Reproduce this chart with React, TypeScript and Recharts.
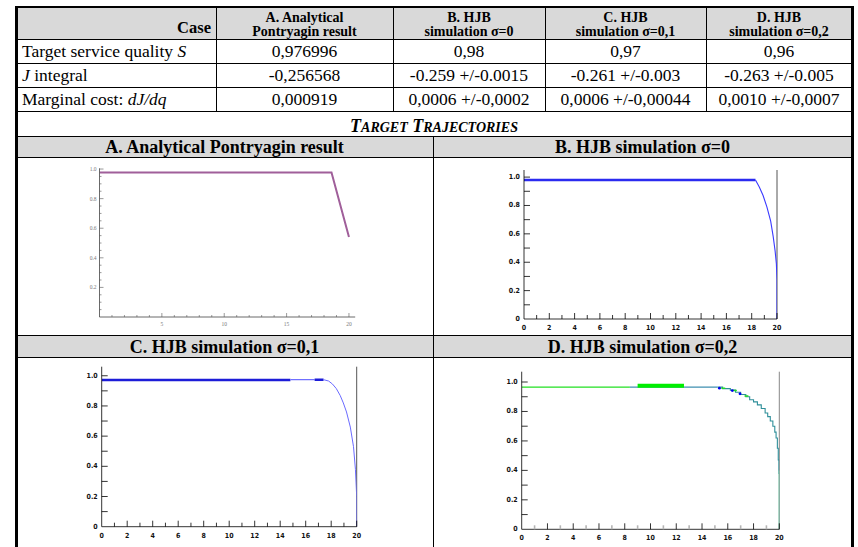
import React from "react";
import { LineChart, Line, XAxis, YAxis, ReferenceLine } from "recharts";

// ---- table text ----
const headerLine1 = ["A. Analytical", "B. HJB", "C. HJB", "D. HJB"];
const headerLine2 = ["Pontryagin result", "simulation σ=0", "simulation σ=0,1", "simulation σ=0,2"];
const serviceQuality = ["0,976996", "0,98", "0,97", "0,96"];
const jIntegral = ["-0,256568", "-0.259 +/-0.0015", "-0.261 +/-0.003", "-0.263 +/-0.005"];
const marginalCost = ["0,000919", "0,0006 +/-0,0002", "0,0006 +/-0,00044", "0,0010 +/-0,0007"];
const panelTitles = [
  "A. Analytical Pontryagin result",
  "B. HJB simulation σ=0",
  "C. HJB simulation σ=0,1",
  "D. HJB simulation σ=0,2",
];

// ---- tick values ----
const mmaXTicks = [0, 1, 2, 3, 4, 5, 6, 7, 8, 9, 10, 11, 12, 13, 14, 15, 16, 17, 18, 19, 20];
const mmaYTicks = [0.05, 0.1, 0.15, 0.2, 0.25, 0.3, 0.35, 0.4, 0.45, 0.5, 0.55, 0.6, 0.65, 0.7, 0.75, 0.8, 0.85, 0.9, 0.95, 1.0];
const simXTicks = [0, 1, 2, 3, 4, 5, 6, 7, 8, 9, 10, 11, 12, 13, 14, 15, 16, 17, 18, 19, 20];
const simYTicks = [0, 0.1, 0.2, 0.3, 0.4, 0.5, 0.6, 0.7, 0.8, 0.9, 1.0];

// ---- A. analytical Pontryagin trajectory ----
const pontryagin = [
  { t: 0, s: 0.977 },
  { t: 18.6, s: 0.977 },
  { t: 20, s: 0.54 },
];

// ---- B. HJB sigma=0 ----
const hjb0Flat = [
  { t: 0, s: 0.98 },
  { t: 18.3, s: 0.98 },
];
const hjb0Drop = [
  { t: 18.3, s: 0.98 },
  { t: 18.6, s: 0.93 },
  { t: 18.9, s: 0.87 },
  { t: 19.2, s: 0.79 },
  { t: 19.5, s: 0.69 },
  { t: 19.7, s: 0.58 },
  { t: 19.85, s: 0.48 },
  { t: 19.95, s: 0.39 },
  { t: 20, s: 0.28 },
  { t: 20, s: 0 },
];

// ---- C. HJB sigma=0,1 ----
const hjb1Flat = [
  { t: 0, s: 0.972 },
  { t: 14.8, s: 0.972 },
];
const hjb1Thin = [
  { t: 14.8, s: 0.974 },
  { t: 16.7, s: 0.974 },
];
const hjb1Short = [
  { t: 16.7, s: 0.974 },
  { t: 17.4, s: 0.974 },
];
const hjb1Drop = [
  { t: 17.4, s: 0.974 },
  { t: 17.8, s: 0.965 },
  { t: 18.1, s: 0.945 },
  { t: 18.4, s: 0.915 },
  { t: 18.7, s: 0.87 },
  { t: 18.95, s: 0.82 },
  { t: 19.2, s: 0.76 },
  { t: 19.5, s: 0.66 },
  { t: 19.75, s: 0.53 },
  { t: 19.9, s: 0.38 },
  { t: 20, s: 0.2 },
  { t: 20, s: 0 },
];

// ---- D. HJB sigma=0,2 ----
const hjb2Green = [
  { t: 0, s: 0.965 },
  { t: 8.4, s: 0.965 },
];
const hjb2Teal = [
  { t: 8.4, s: 0.965 },
  { t: 15.2, s: 0.965 },
];
const hjb2Bar = [
  { t: 9, s: 0.975 },
  { t: 12.6, s: 0.975 },
];
const hjb2Steps = [
  { t: 15.2, s: 0.965 },
  { t: 15.6, s: 0.955 },
  { t: 16.2, s: 0.945 },
  { t: 16.6, s: 0.93 },
  { t: 17.0, s: 0.915 },
  { t: 17.4, s: 0.9 },
  { t: 17.7, s: 0.88 },
  { t: 18.0, s: 0.865 },
  { t: 18.3, s: 0.845 },
  { t: 18.6, s: 0.82 },
  { t: 18.9, s: 0.79 },
  { t: 19.1, s: 0.765 },
  { t: 19.3, s: 0.735 },
  { t: 19.5, s: 0.7 },
  { t: 19.65, s: 0.66 },
  { t: 19.75, s: 0.62 },
  { t: 19.85, s: 0.55 },
  { t: 19.92, s: 0.47 },
  { t: 19.97, s: 0.38 },
  { t: 20, s: 0.28 },
  { t: 20, s: 0 },
];
const hjb2GreenSteps = [
  { t: 15.5, s: 0.958 },
  { t: 15.8, s: 0.958 },
  { t: 15.81, s: null },
  { t: 16.4, s: 0.942 },
  { t: 16.7, s: 0.942 },
  { t: 16.71, s: null },
  { t: 17.3, s: 0.905 },
  { t: 17.6, s: 0.905 },
];
const hjb2Dots = [
  { t: 15.35, s: 0.958 },
  { t: 16.35, s: 0.942 },
  { t: 16.95, s: 0.92 },
];
const hjb2Tail = [
  { t: 20, s: 0.4 },
  { t: 20, s: 0 },
];

const FONT = '"Liberation Serif", "DejaVu Serif", serif';
const TICK_FONT = '"DejaVu Sans Condensed", "Liberation Sans Narrow", sans-serif';
const colEdges = [16, 216, 393, 545, 706, 852];
const rowEdges = [7, 39, 63, 87, 111, 136, 157];
const midX = 433;
const grayCTop = 335;
const grayCBottom = 357;

function mmaXTick(props: any) {
  const { x, y, payload } = props;
  const v = payload.value as number;
  const major = v % 5 === 0;
  if (v === 0) return <g />;
  return (
    <g>
      <line x1={x} y1={y} x2={x} y2={y - (major ? 4 : 2)} stroke="#555" strokeWidth={0.6} />
      {major && (
        <text x={x} y={y + 7} textAnchor="middle" dominantBaseline="central" fontSize={5.5} fill="#7a7a7a" fontFamily={FONT}>
          {v}
        </text>
      )}
    </g>
  );
}

function mmaYTick(props: any) {
  const { x, y, payload } = props;
  const v = payload.value as number;
  const major = Math.round(v * 100) % 20 === 0;
  return (
    <g>
      <line x1={x} y1={y} x2={x + (major ? 4 : 2)} y2={y} stroke="#555" strokeWidth={0.6} />
      {major && (
        <text x={x - 3} y={y} textAnchor="end" dominantBaseline="central" fontSize={5.5} fill="#7a7a7a" fontFamily={FONT}>
          {v.toFixed(1)}
        </text>
      )}
    </g>
  );
}

function makeSimXTick(minorColor: string, minorWidth: number) {
  return (props: any) => {
    const { x, y, payload } = props;
    const v = payload.value as number;
    const major = v % 2 === 0;
    return (
      <g>
        {v > 0 && (
          <line
            x1={x}
            y1={y}
            x2={x}
            y2={y - (major ? 6 : 4)}
            stroke={major ? "#000" : minorColor}
            strokeWidth={major ? 0.8 : minorWidth}
          />
        )}
        {major && (
          <text x={x} y={y + 9} textAnchor="middle" dominantBaseline="central" fontSize={7} fontWeight={700} fill="#111" fontFamily={TICK_FONT}>
            {v}
          </text>
        )}
      </g>
    );
  };
}

function simYTick(props: any) {
  const { x, y, payload } = props;
  const v = payload.value as number;
  const major = Math.round(v * 10) % 2 === 0;
  return (
    <g>
      {v > 0 && <line x1={x} y1={y} x2={x + 6} y2={y} stroke="#000" strokeWidth={0.8} />}
      {major && (
        <text x={x - 4} y={y} textAnchor="end" dominantBaseline="central" fontSize={7} fontWeight={700} fill="#111" fontFamily={TICK_FONT}>
          {v === 0 ? "0" : v.toFixed(1)}
        </text>
      )}
    </g>
  );
}

type Box = { l: number; t: number; w: number; h: number };
type Plot = { left: number; right: number; top: number; bottom: number };

// axes get 1px of room each (an axis of size 0 is not drawn)
function PlotBox(props: {
  box: Box;
  plot: Plot;
  xMax: number;
  yMax: number;
  xTicks: number[];
  yTicks: number[];
  xTick: any;
  yTick: any;
  axisColor: string;
  children: React.ReactNode;
}) {
  const { box, plot } = props;
  return (
    <div style={{ position: "absolute", left: box.l, top: box.t }}>
      <LineChart
        width={box.w}
        height={box.h}
        margin={{
          top: plot.top - box.t,
          bottom: box.t + box.h - plot.bottom - 1,
          left: plot.left - box.l - 1,
          right: box.l + box.w - plot.right,
        }}
      >
        <XAxis
          dataKey="t"
          type="number"
          domain={[0, props.xMax]}
          ticks={props.xTicks}
          interval={0}
          height={1}
          tickSize={0}
          tickMargin={0}
          tickLine={false}
          tick={props.xTick}
          axisLine={{ stroke: props.axisColor, strokeWidth: 0.8 }}
          allowDataOverflow
        />
        <YAxis
          type="number"
          domain={[0, props.yMax]}
          ticks={props.yTicks}
          interval={0}
          width={1}
          tickSize={0}
          tickMargin={0}
          tickLine={false}
          tick={props.yTick}
          axisLine={{ stroke: props.axisColor, strokeWidth: 0.8 }}
          allowDataOverflow
        />
        {props.children}
      </LineChart>
    </div>
  );
}

function HLine({ x1, x2, y, th = 1 }: { x1: number; x2: number; y: number; th?: number }) {
  return <div style={{ position: "absolute", left: x1, top: y, width: x2 - x1, height: th, background: "#000" }} />;
}
function VLine({ x, y1, y2, th = 1 }: { x: number; y1: number; y2: number; th?: number }) {
  return <div style={{ position: "absolute", left: x, top: y1, width: th, height: y2 - y1, background: "#000" }} />;
}
function Cell(props: { l: number; t: number; w: number; h: number; style?: React.CSSProperties; children: React.ReactNode }) {
  return (
    <div
      style={{
        position: "absolute",
        left: props.l,
        top: props.t,
        width: props.w,
        height: props.h,
        display: "flex",
        alignItems: "center",
        justifyContent: "center",
        textAlign: "center",
        whiteSpace: "nowrap",
        boxSizing: "border-box",
        ...props.style,
      }}
    >
      {props.children}
    </div>
  );
}

const rowLabels = [
  <>
    Target service quality <i>S</i>
  </>,
  <>
    <i>J</i> integral
  </>,
  <>
    Marginal cost: <i>dJ/dq</i>
  </>,
];
const rowValues = [serviceQuality, jIntegral, marginalCost];

export default function App() {
  const L = colEdges[0];
  const R = colEdges[5];
  const titleStyle: React.CSSProperties = { fontSize: 18, fontWeight: 700, paddingTop: 2 };
  const small = { fontSize: 14 };
  return (
    <div
      style={{
        position: "absolute",
        left: 0,
        top: 0,
        width: 858,
        height: 547,
        overflow: "hidden",
        background: "#fff",
        fontFamily: FONT,
        color: "#000",
      }}
    >
      {/* gray bands */}
      <div style={{ position: "absolute", left: L, top: rowEdges[0], width: R - L, height: rowEdges[1] - rowEdges[0], background: "#d9d9d9" }} />
      <div style={{ position: "absolute", left: L, top: rowEdges[5], width: R - L, height: rowEdges[6] - rowEdges[5], background: "#d9d9d9" }} />
      <div style={{ position: "absolute", left: L, top: grayCTop, width: R - L, height: grayCBottom - grayCTop, background: "#d9d9d9" }} />

      {/* header row */}
      <Cell
        l={colEdges[0]}
        t={rowEdges[0]}
        w={colEdges[1] - colEdges[0] - 5}
        h={rowEdges[1] - rowEdges[0]}
        style={{ justifyContent: "flex-end", fontWeight: 700, fontSize: 16.5, paddingTop: 9 }}
      >
        Case
      </Cell>
      {headerLine1.map((h, i) => (
        <Cell
          key={h + i}
          l={colEdges[i + 1]}
          t={rowEdges[0]}
          w={colEdges[i + 2] - colEdges[i + 1]}
          h={rowEdges[1] - rowEdges[0]}
          style={{ flexDirection: "column", fontWeight: 700, fontSize: 14, lineHeight: "14px", paddingTop: 3 }}
        >
          <div>{h}</div>
          <div>{headerLine2[i]}</div>
        </Cell>
      ))}

      {/* value rows */}
      {rowLabels.map((lab, r) => (
        <React.Fragment key={r}>
          <Cell
            l={colEdges[0] + 6}
            t={rowEdges[r + 1]}
            w={colEdges[1] - colEdges[0] - 6}
            h={rowEdges[r + 2] - rowEdges[r + 1]}
            style={{ justifyContent: "flex-start", fontSize: 17.5 }}
          >
            <span>{lab}</span>
          </Cell>
          {rowValues[r].map((v, c) => (
            <Cell
              key={c}
              l={colEdges[c + 1]}
              t={rowEdges[r + 1]}
              w={colEdges[c + 2] - colEdges[c + 1]}
              h={rowEdges[r + 2] - rowEdges[r + 1]}
              style={{ fontSize: 17.5 }}
            >
              {v}
            </Cell>
          ))}
        </React.Fragment>
      ))}

      <Cell
        l={L}
        t={rowEdges[4]}
        w={R - L}
        h={rowEdges[5] - rowEdges[4]}
        style={{ fontSize: 18, fontWeight: 700, fontStyle: "italic", paddingTop: 4, alignItems: "baseline", lineHeight: "22px" }}
      >
        <span>
          T<span style={small}>ARGET</span> T<span style={small}>RAJECTORIES</span>
        </span>
      </Cell>

      {/* panel titles */}
      <Cell l={L} t={rowEdges[5]} w={midX - L} h={rowEdges[6] - rowEdges[5]} style={titleStyle}>
        {panelTitles[0]}
      </Cell>
      <Cell l={midX} t={rowEdges[5]} w={R - midX} h={rowEdges[6] - rowEdges[5]} style={titleStyle}>
        {panelTitles[1]}
      </Cell>
      <Cell l={L} t={grayCTop} w={midX - L} h={grayCBottom - grayCTop} style={titleStyle}>
        {panelTitles[2]}
      </Cell>
      <Cell l={midX} t={grayCTop} w={R - midX} h={grayCBottom - grayCTop} style={titleStyle}>
        {panelTitles[3]}
      </Cell>

      {/* A */}
      <PlotBox
        box={{ l: 17, t: 158, w: 416, h: 177 }}
        plot={{ left: 99.5, right: 355.2, top: 168.3, bottom: 317 }}
        xMax={20.5}
        yMax={1.005}
        xTicks={mmaXTicks}
        yTicks={mmaYTicks}
        xTick={mmaXTick}
        yTick={mmaYTick}
        axisColor="#444"
      >
        <Line data={pontryagin} dataKey="s" type="linear" stroke="#a05f9a" strokeWidth={2} dot={false} isAnimationActive={false} />
      </PlotBox>

      {/* B */}
      <PlotBox
        box={{ l: 434, t: 158, w: 417, h: 177 }}
        plot={{ left: 524, right: 777, top: 170, bottom: 319 }}
        xMax={20}
        yMax={1.05}
        xTicks={simXTicks}
        yTicks={simYTicks}
        xTick={makeSimXTick("#000", 0.8)}
        yTick={simYTick}
        axisColor="#000"
      >
        <ReferenceLine x={20} stroke="#555" strokeWidth={1} />
        <Line data={hjb0Flat} dataKey="s" type="linear" stroke="#2b2bf0" strokeWidth={2.6} dot={false} isAnimationActive={false} />
        <Line data={hjb0Drop} dataKey="s" type="linear" stroke="#3a3aff" strokeWidth={1.1} dot={false} isAnimationActive={false} />
      </PlotBox>

      {/* C */}
      <PlotBox
        box={{ l: 17, t: 358, w: 416, h: 189 }}
        plot={{ left: 101.7, right: 356.7, top: 366.7, bottom: 526.7 }}
        xMax={20}
        yMax={1.06}
        xTicks={simXTicks}
        yTicks={simYTicks}
        xTick={makeSimXTick("#000", 0.8)}
        yTick={simYTick}
        axisColor="#000"
      >
        <ReferenceLine x={20} stroke="#555" strokeWidth={1} />
        <Line data={hjb1Flat} dataKey="s" type="linear" stroke="#1c1cd8" strokeWidth={2.6} dot={false} isAnimationActive={false} />
        <Line data={hjb1Thin} dataKey="s" type="linear" stroke="#7070ff" strokeWidth={1.2} dot={false} isAnimationActive={false} />
        <Line data={hjb1Short} dataKey="s" type="linear" stroke="#1c1cd8" strokeWidth={2.6} dot={false} isAnimationActive={false} />
        <Line data={hjb1Drop} dataKey="s" type="linear" stroke="#6a6aff" strokeWidth={1} dot={false} isAnimationActive={false} />
      </PlotBox>

      {/* D */}
      <PlotBox
        box={{ l: 434, t: 358, w: 417, h: 189 }}
        plot={{ left: 521.7, right: 779.3, top: 371.7, bottom: 529.3 }}
        xMax={20}
        yMax={1.07}
        xTicks={simXTicks}
        yTicks={simYTicks}
        xTick={makeSimXTick("#b5b5b5", 1.6)}
        yTick={simYTick}
        axisColor="#000"
      >
        <ReferenceLine x={20} stroke="#888" strokeWidth={1} />
        <Line data={hjb2Green} dataKey="s" type="linear" stroke="#22e022" strokeWidth={1.2} dot={false} isAnimationActive={false} />
        <Line data={hjb2Teal} dataKey="s" type="linear" stroke="#3f8fb0" strokeWidth={1.2} dot={false} isAnimationActive={false} />
        <Line data={hjb2Bar} dataKey="s" type="linear" stroke="#00ee00" strokeWidth={4} dot={false} isAnimationActive={false} />
        <Line data={hjb2Steps} dataKey="s" type="stepAfter" stroke="#2f8f9a" strokeWidth={1.1} dot={false} isAnimationActive={false} />
        <Line data={hjb2GreenSteps} dataKey="s" type="linear" stroke="#22dd22" strokeWidth={1.6} dot={false} connectNulls={false} isAnimationActive={false} />
        <Line data={hjb2Dots} dataKey="s" type="linear" stroke="none" dot={{ r: 1.4, fill: "#0000ee", stroke: "none" }} isAnimationActive={false} />
        <Line data={hjb2Tail} dataKey="s" type="linear" stroke="#9fe8b0" strokeWidth={1.2} dot={false} isAnimationActive={false} />
      </PlotBox>

      {/* table rules */}
      <HLine x1={L} x2={R + 2} y={rowEdges[0] - 1} th={2} />
      <HLine x1={L} x2={R} y={rowEdges[1]} />
      <HLine x1={L} x2={R} y={rowEdges[2]} />
      <HLine x1={L} x2={R} y={rowEdges[3]} />
      <HLine x1={L} x2={R} y={rowEdges[4]} />
      <HLine x1={L} x2={R} y={rowEdges[5]} />
      <HLine x1={L} x2={R} y={rowEdges[6]} />
      <HLine x1={L} x2={R} y={grayCTop} />
      <HLine x1={L} x2={R} y={grayCBottom} />
      {colEdges.slice(1, 5).map((x) => (
        <VLine key={x} x={x} y1={rowEdges[0]} y2={rowEdges[4]} />
      ))}
      <VLine x={midX} y1={rowEdges[5]} y2={547} />
      <VLine x={15} y1={rowEdges[0] - 1} y2={547} th={2.5} />
      <VLine x={851} y1={rowEdges[0] - 1} y2={547} th={2.5} />
    </div>
  );
}
